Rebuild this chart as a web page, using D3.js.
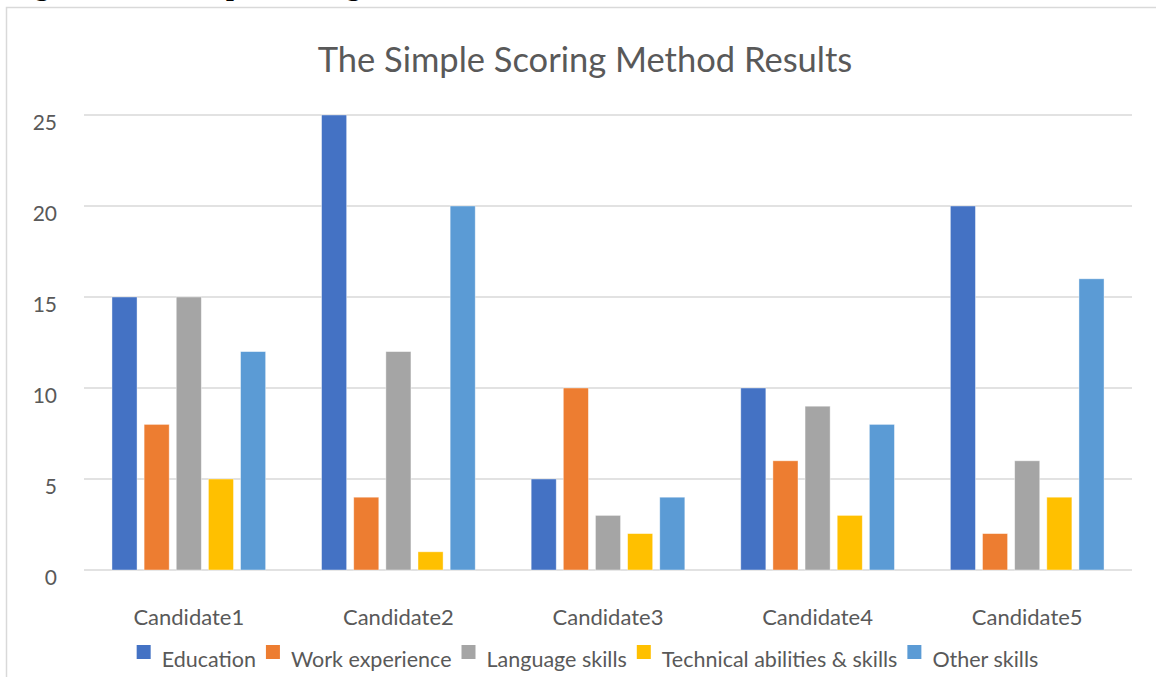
<!DOCTYPE html>
<html>
<head>
<meta charset="utf-8">
<script src="https://cdn.jsdelivr.net/npm/d3@7"></script>
<style>
  body { margin: 0; background: #fff; }
  svg text { font-family: Lato, "Open Sans", sans-serif; fill: #595959; }
</style>
</head>
<body>
<div id="chart"></div>
<script>
// Chart data
var candidates = ["Candidate1", "Candidate2", "Candidate3", "Candidate4", "Candidate5"];
var seriesNames = ["Education", "Work experience", "Language skills", "Technical abilities & skills", "Other skills"];
var education = [15, 25, 5, 10, 20];
var workExperience = [8, 4, 10, 6, 2];
var languageSkills = [15, 12, 3, 9, 6];
var technicalSkills = [5, 1, 2, 3, 4];
var otherSkills = [12, 20, 4, 8, 16];
var yTicks = [0, 5, 10, 15, 20, 25];
var colors = ["#4472C4", "#ED7D31", "#A5A5A5", "#FFC000", "#5B9BD5"];

var seriesValues = [education, workExperience, languageSkills, technicalSkills, otherSkills];

var width = 1156, height = 677;
var plot = { left: 84, right: 1132, top: 115, bottom: 570 };

var svg = d3.select("#chart").append("svg")
    .attr("width", width)
    .attr("height", height);

// cut-off caption at the very top
svg.append("text")
    .attr("x", 10)
    .attr("y", -5)
    .style("font-family", "'Liberation Serif', serif")
    .style("font-weight", "bold")
    .style("font-size", "28px")
    .style("fill", "#000")
    .text("Figure 3: The Simple Scoring Method");

// chart frame (only top and left edges are visible)
svg.append("path")
    .attr("d", "M6.5,677 V7.5 H1156")
    .attr("fill", "none")
    .attr("stroke", "#d9d9d9")
    .attr("stroke-width", 1.5);

// title
svg.append("text")
    .attr("x", 585)
    .attr("y", 72)
    .attr("text-anchor", "middle")
    .style("font-size", "34.5px")
    .text("The Simple Scoring Method Results");

var x = d3.scaleBand().domain(candidates).range([plot.left, plot.right]);
var xSub = d3.scaleBand().domain(seriesNames).range([0, x.bandwidth()])
    .paddingInner(0.22).paddingOuter(0.87);
var y = d3.scaleLinear().domain([0, 25]).range([plot.bottom, plot.top]);

// gridlines
svg.append("g").selectAll("line")
    .data(yTicks)
    .enter().append("line")
    .attr("x1", plot.left)
    .attr("x2", plot.right)
    .attr("y1", d => y(d))
    .attr("y2", d => y(d))
    .attr("stroke", "#d9d9d9")
    .attr("stroke-width", 1.5);

// y labels
svg.append("g").selectAll("text")
    .data(yTicks)
    .enter().append("text")
    .attr("x", 57)
    .attr("y", d => y(d) + 15)
    .attr("text-anchor", "end")
    .style("font-size", "21px")
    .text(d => d);

// bars
seriesNames.forEach(function(name, si) {
    svg.append("g").selectAll("rect")
        .data(seriesValues[si])
        .enter().append("rect")
        .attr("x", (d, i) => x(candidates[i]) + xSub(name))
        .attr("y", d => y(d))
        .attr("width", xSub.bandwidth())
        .attr("height", d => y(0) - y(d))
        .attr("fill", colors[si])
        .attr("stroke", "#fff")
        .attr("stroke-opacity", 0.5)
        .attr("stroke-width", 0.8);
});

// category labels
svg.append("g").selectAll("text")
    .data(candidates)
    .enter().append("text")
    .attr("x", d => x(d) + x.bandwidth() / 2)
    .attr("y", 625)
    .attr("text-anchor", "middle")
    .style("font-size", "22px")
    .text(d => d);

// legend
var legend = svg.append("g");
var items = legend.selectAll("g")
    .data(seriesNames)
    .enter().append("g");
items.append("rect")
    .attr("y", 645)
    .attr("width", 14)
    .attr("height", 14)
    .attr("fill", (d, i) => colors[i]);
items.append("text")
    .attr("x", 25)
    .attr("y", 667)
    .style("font-size", "21.5px")
    .text(d => d);

var pos = 0;
var offsets = [];
items.each(function() {
    var w = d3.select(this).select("text").node().getComputedTextLength();
    offsets.push(pos);
    pos += 25 + w + 10;
});
var legendStart = 587.5 - (pos - 10) / 2;
items.attr("transform", (d, i) => "translate(" + (legendStart + offsets[i]) + ",0)");
</script>
</body>
</html>
